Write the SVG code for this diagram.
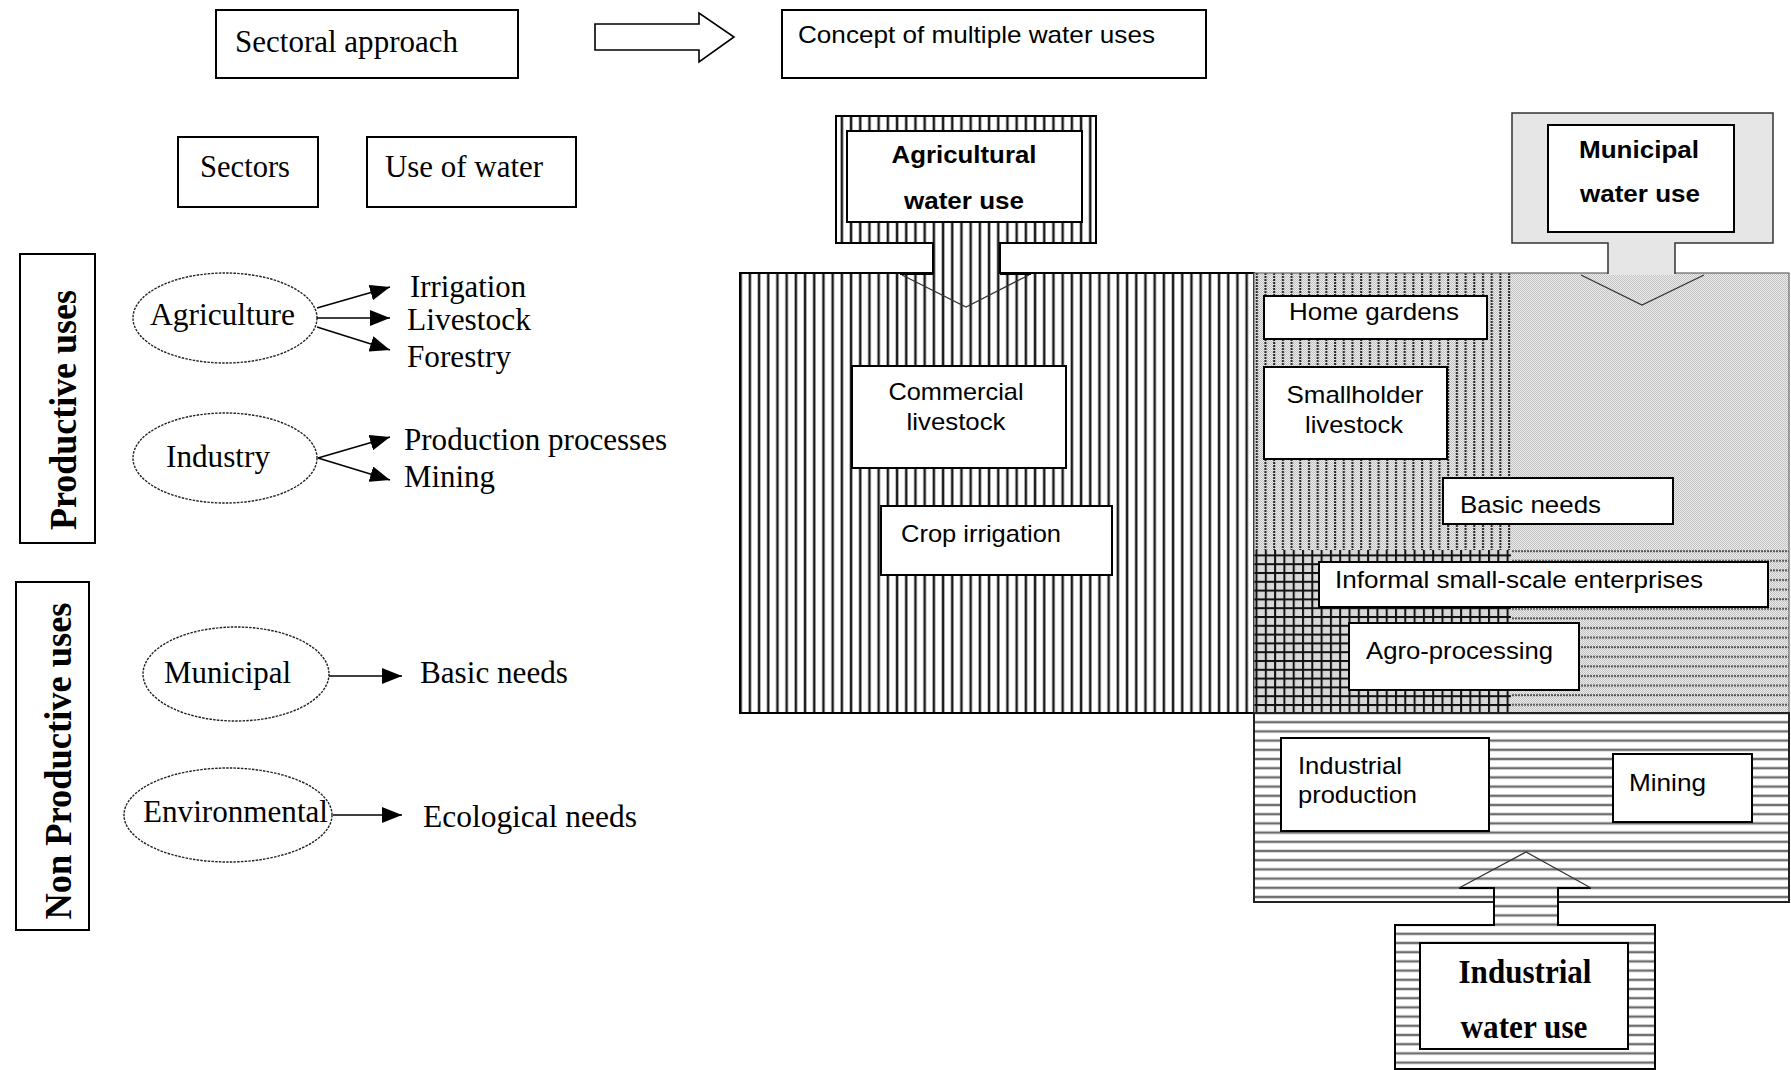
<svg xmlns="http://www.w3.org/2000/svg" width="1791" height="1070" viewBox="0 0 1791 1070">
<style>
.serif{font-family:"Liberation Serif","Times New Roman",serif;font-size:32px;fill:#000}
.bserif{font-family:"Liberation Serif","Times New Roman",serif;font-weight:bold;fill:#000}
.sans{font-family:"Liberation Sans",Arial,sans-serif;font-size:24px;fill:#000}
.bsans{font-family:"Liberation Sans",Arial,sans-serif;font-weight:bold;font-size:23px;fill:#000}
.box{fill:#fff;stroke:#000;stroke-width:2}
.ell{fill:#fff;stroke:#222;stroke-width:1.4;stroke-dasharray:2.5 1.2}
.conn{fill:none;stroke:#000;stroke-width:1.5}
.head{fill:none;stroke:#333;stroke-width:1.3}
.edge{fill:none;stroke:#000;stroke-width:2}
</style>
<defs>
<marker id="arr" markerUnits="userSpaceOnUse" markerWidth="20" markerHeight="16" refX="20" refY="8" orient="auto">
<path d="M0,0 L20,8 L0,16 Z" fill="#000"/>
</marker>
<pattern id="vh" patternUnits="userSpaceOnUse" width="9.2" height="20">
<rect width="9.2" height="20" fill="#fff"/><rect x="3.4" width="2.5" height="20" fill="#1a1a1a"/>
</pattern>
<pattern id="hh" patternUnits="userSpaceOnUse" width="20" height="9.2">
<rect width="20" height="9.2" fill="#fff"/><rect y="3.4" width="20" height="2.4" fill="#6e6e6e"/>
</pattern>
<pattern id="grid" patternUnits="userSpaceOnUse" width="9.3" height="8.8">
<rect width="9.3" height="8.8" fill="#d8d8d8"/><rect width="2" height="8.8" fill="#111"/><rect width="9.3" height="2" fill="#111"/>
</pattern>
<pattern id="chk" patternUnits="userSpaceOnUse" width="2" height="2">
<rect width="2" height="2" fill="#ececec"/><rect width="1" height="1" fill="#c2c2c2"/><rect x="1" y="1" width="1" height="1" fill="#c2c2c2"/>
</pattern>
<pattern id="vdot" patternUnits="userSpaceOnUse" width="8.7" height="3">
<rect x="3" y="0" width="2" height="2" fill="#222"/>
</pattern>
<pattern id="hdot" patternUnits="userSpaceOnUse" width="3" height="9.6">
<rect x="0" y="3" width="2" height="2" fill="#555"/>
</pattern>
</defs>
<rect width="1791" height="1070" fill="#fff"/>

<!-- Left side: sectoral approach -->
<g id="sectoral-approach">
<rect class="box" x="216" y="10" width="302" height="68"/>
<text class="serif" x="235" y="52" textLength="223" lengthAdjust="spacingAndGlyphs">Sectoral approach</text>
</g>
<g id="sectors">
<rect class="box" x="178" y="137" width="140" height="70"/>
<text class="serif" x="200" y="177" textLength="90" lengthAdjust="spacingAndGlyphs">Sectors</text>
</g>
<g id="use-of-water">
<rect class="box" x="367" y="137" width="209" height="70"/>
<text class="serif" x="385" y="177" textLength="158" lengthAdjust="spacingAndGlyphs">Use of water</text>
</g>
<g id="productive-uses">
<rect class="box" x="20" y="254" width="75" height="289"/>
<text class="bserif" font-size="37" transform="translate(76,410) rotate(-90)" text-anchor="middle" textLength="240" lengthAdjust="spacingAndGlyphs">Productive uses</text>
</g>
<g id="non-productive-uses">
<rect class="box" x="16" y="582" width="73" height="348"/>
<text class="bserif" font-size="37" transform="translate(71,761) rotate(-90)" text-anchor="middle" textLength="317" lengthAdjust="spacingAndGlyphs">Non Productive uses</text>
</g>
<g id="agriculture">
<ellipse class="ell" cx="225" cy="318" rx="92" ry="45"/>
<text class="serif" x="150" y="325" textLength="145" lengthAdjust="spacingAndGlyphs">Agriculture</text>
</g>
<g id="industry">
<ellipse class="ell" cx="225" cy="458" rx="92" ry="45"/>
<text class="serif" x="166" y="467" textLength="104" lengthAdjust="spacingAndGlyphs">Industry</text>
</g>
<g id="municipal">
<ellipse class="ell" cx="236" cy="674" rx="93" ry="47"/>
<text class="serif" x="164" y="683" textLength="127" lengthAdjust="spacingAndGlyphs">Municipal</text>
</g>
<g id="environmental">
<ellipse class="ell" cx="228" cy="815" rx="104" ry="47"/>
<text class="serif" x="143" y="822" textLength="185" lengthAdjust="spacingAndGlyphs">Environmental</text>
</g>
<g id="irrigation"><text class="serif" x="410" y="297" textLength="116" lengthAdjust="spacingAndGlyphs">Irrigation</text></g>
<g id="livestock"><text class="serif" x="407" y="330" textLength="124" lengthAdjust="spacingAndGlyphs">Livestock</text></g>
<g id="forestry"><text class="serif" x="407" y="367" textLength="104" lengthAdjust="spacingAndGlyphs">Forestry</text></g>
<g id="production-processes"><text class="serif" x="404" y="450" textLength="263" lengthAdjust="spacingAndGlyphs">Production processes</text></g>
<g id="mining-left"><text class="serif" x="404" y="487" textLength="91" lengthAdjust="spacingAndGlyphs">Mining</text></g>
<g id="basic-needs-left"><text class="serif" x="420" y="683" textLength="148" lengthAdjust="spacingAndGlyphs">Basic needs</text></g>
<g id="ecological-needs"><text class="serif" x="423" y="827" textLength="214" lengthAdjust="spacingAndGlyphs">Ecological needs</text></g>

<!-- Right side: concept of multiple water uses -->
<g id="concept">
<rect class="box" x="782" y="10" width="424" height="68"/>
<text class="sans" x="798" y="43" textLength="357" lengthAdjust="spacingAndGlyphs">Concept of multiple water uses</text>
</g>

<g id="agricultural-area">
<rect x="740" y="273" width="514" height="440" fill="url(#vh)" stroke="#000" stroke-width="2"/>
</g>
<g id="multiple-use-area">
<rect x="1254" y="273" width="257" height="277" fill="url(#chk)"/>
<rect x="1254" y="273" width="257" height="277" fill="url(#vdot)"/>
<rect x="1511" y="273" width="278" height="277" fill="url(#chk)"/>
<rect x="1254" y="550" width="257" height="163" fill="url(#grid)"/>
<rect x="1511" y="550" width="278" height="163" fill="url(#chk)"/>
<rect x="1511" y="550" width="278" height="163" fill="url(#hdot)"/>
<rect x="1254" y="273" width="535" height="440" fill="none" stroke="#666" stroke-width="1.2"/>
</g>
<g id="industrial-area">
<rect x="1254" y="713" width="535" height="189" fill="url(#hh)" stroke="#222" stroke-width="2"/>
</g>

<g id="agricultural-water-use">
<path d="M836,116 H1096 V243 H1000 V275 H933 V243 H836 Z" fill="url(#vh)"/>
<path class="edge" d="M933,274 V243 H836 V116 H1096 V243 H1000 V274"/>
<rect class="box" x="847" y="131" width="235" height="91"/>
<text class="bsans" x="964" y="163" text-anchor="middle" textLength="145" lengthAdjust="spacingAndGlyphs">Agricultural</text>
<text class="bsans" x="964" y="209" text-anchor="middle" textLength="120" lengthAdjust="spacingAndGlyphs">water use</text>
</g>
<g id="municipal-water-use">
<path d="M1512,113 H1773 V243 H1675 V275 H1608 V243 H1512 Z" fill="#e6e6e6"/>
<path d="M1608,274 V243 H1512 V113 H1773 V243 H1675 V274" fill="none" stroke="#333" stroke-width="1.5"/>
<rect class="box" x="1548" y="125" width="186" height="107"/>
<text class="bsans" x="1639" y="158" text-anchor="middle" textLength="120" lengthAdjust="spacingAndGlyphs">Municipal</text>
<text class="bsans" x="1640" y="202" text-anchor="middle" textLength="120" lengthAdjust="spacingAndGlyphs">water use</text>
</g>
<g id="industrial-water-use">
<path d="M1494,900 H1558 V926 H1655 V1069 H1395 V926 H1494 Z" fill="url(#hh)"/>
<path class="edge" d="M1459,888 H1494 V925 H1395 V1069 H1655 V925 H1558 V888 H1591"/>
<rect class="box" x="1420" y="943" width="208" height="106"/>
<text class="bserif" font-size="34" x="1525" y="983" text-anchor="middle" textLength="133" lengthAdjust="spacingAndGlyphs">Industrial</text>
<text class="bserif" font-size="34" x="1524" y="1038" text-anchor="middle" textLength="127" lengthAdjust="spacingAndGlyphs">water use</text>
</g>

<g id="commercial-livestock">
<rect class="box" x="852" y="366" width="214" height="102"/>
<text class="sans" x="956" y="400" text-anchor="middle" textLength="135" lengthAdjust="spacingAndGlyphs">Commercial</text>
<text class="sans" x="956" y="430" text-anchor="middle" textLength="99" lengthAdjust="spacingAndGlyphs">livestock</text>
</g>
<g id="crop-irrigation">
<rect class="box" x="881" y="506" width="231" height="69"/>
<text class="sans" x="901" y="542" textLength="160" lengthAdjust="spacingAndGlyphs">Crop irrigation</text>
</g>
<g id="home-gardens">
<rect class="box" x="1264" y="296" width="223" height="43"/>
<text class="sans" x="1289" y="320" textLength="170" lengthAdjust="spacingAndGlyphs">Home gardens</text>
</g>
<g id="smallholder-livestock">
<rect class="box" x="1264" y="367" width="183" height="92"/>
<text class="sans" x="1355" y="403" text-anchor="middle" textLength="137" lengthAdjust="spacingAndGlyphs">Smallholder</text>
<text class="sans" x="1354" y="433" text-anchor="middle" textLength="98" lengthAdjust="spacingAndGlyphs">livestock</text>
</g>
<g id="basic-needs-right">
<rect class="box" x="1443" y="478" width="230" height="46"/>
<text class="sans" x="1460" y="513" textLength="141" lengthAdjust="spacingAndGlyphs">Basic needs</text>
</g>
<g id="informal-enterprises">
<rect class="box" x="1319" y="562" width="449" height="45"/>
<text class="sans" x="1335" y="588" textLength="368" lengthAdjust="spacingAndGlyphs">Informal small-scale enterprises</text>
</g>
<g id="agro-processing">
<rect class="box" x="1349" y="623" width="230" height="67"/>
<text class="sans" x="1366" y="659" textLength="187" lengthAdjust="spacingAndGlyphs">Agro-processing</text>
</g>
<g id="industrial-production">
<rect class="box" x="1281" y="738" width="208" height="93"/>
<text class="sans" x="1298" y="774" textLength="104" lengthAdjust="spacingAndGlyphs">Industrial</text>
<text class="sans" x="1298" y="803" textLength="119" lengthAdjust="spacingAndGlyphs">production</text>
</g>
<g id="mining-right">
<rect class="box" x="1613" y="754" width="139" height="68"/>
<text class="sans" x="1629" y="791" textLength="77" lengthAdjust="spacingAndGlyphs">Mining</text>
</g>

<g id="connectors">
<polygon points="595,24 699,24 699,13 734,37 699,62 699,50 595,50" fill="#fff" stroke="#000" stroke-width="1.6"/>
<line class="conn" x1="317" y1="308" x2="390" y2="287" marker-end="url(#arr)"/>
<line class="conn" x1="317" y1="318" x2="390" y2="318" marker-end="url(#arr)"/>
<line class="conn" x1="317" y1="327" x2="390" y2="350" marker-end="url(#arr)"/>
<line class="conn" x1="318" y1="458" x2="390" y2="437" marker-end="url(#arr)"/>
<line class="conn" x1="318" y1="458" x2="390" y2="480" marker-end="url(#arr)"/>
<line class="conn" x1="329" y1="676" x2="402" y2="676" marker-end="url(#arr)"/>
<line class="conn" x1="333" y1="815" x2="402" y2="815" marker-end="url(#arr)"/>
<polyline class="head" points="902,275 966,307 1029,275"/>
<path class="edge" d="M900,274 H933 M1000,274 H1031"/>
<polyline class="head" points="1581,275 1642,305 1704,275"/>
<polyline class="head" points="1459,888 1526,852 1591,888"/>
</g>
</svg>
